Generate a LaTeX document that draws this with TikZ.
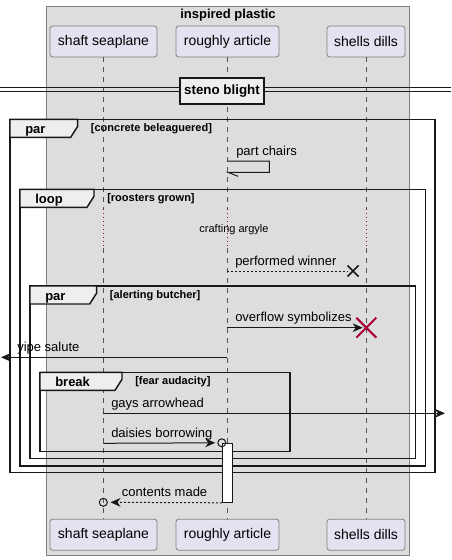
\documentclass[tikz,border=0pt]{standalone}
\usepackage{fontspec}
\setmainfont{Liberation Sans}
\usetikzlibrary{arrows.meta, positioning}
\definecolor{lineaoscura}{HTML}{181818}
\definecolor{bordecaja}{HTML}{808080}
\definecolor{fondolila}{HTML}{E2E2F0}
\definecolor{fondocaja}{HTML}{DDDDDD}
\definecolor{fondopestana}{HTML}{EEEEEE}
\definecolor{rojomuerte}{HTML}{A80036}
\tikzstyle{caja} = [draw=bordecaja, fill=fondocaja, line width=0.6pt]
\tikzstyle{titulo} = [inner sep=0pt, font=\bfseries\fontsize{9.75}{11}\selectfont]
\tikzstyle{participante} = [draw=bordecaja, fill=fondolila, line width=0.6pt, rounded corners=2pt, minimum height=23.25pt, inner sep=0pt, font=\fontsize{10.5}{12}\selectfont]
\tikzstyle{vida} = [draw=lineaoscura!75, line width=0.5pt, dash pattern=on 3.75pt off 3.75pt]
\tikzstyle{espera} = [draw=rojomuerte, line width=0.5pt, dash pattern=on 0.75pt off 2.25pt]
\tikzstyle{divisor} = [draw=lineaoscura, line width=0.75pt]
\tikzstyle{separador} = [draw=lineaoscura, fill=fondopestana, line width=1.1pt, minimum height=19.5pt, inner xsep=3pt, inner ysep=0pt, font=\bfseries\fontsize{10}{12}\selectfont]
\tikzstyle{marco} = [draw=lineaoscura, line width=1.1pt]
\tikzstyle{pestana} = [draw=lineaoscura, fill=fondopestana, line width=1.1pt]
\tikzstyle{tipomarco} = [anchor=base west, inner sep=0pt, font=\bfseries\fontsize{9.75}{11}\selectfont]
\tikzstyle{condicion} = [anchor=base west, inner sep=0pt, font=\bfseries\fontsize{8.25}{10}\selectfont]
\tikzstyle{texto} = [anchor=base west, inner sep=0pt, font=\fontsize{9.75}{11}\selectfont]
\tikzstyle{nota} = [anchor=base, inner sep=0pt, font=\fontsize{8.25}{10}\selectfont]
\tikzstyle{linea} = [draw=lineaoscura, line width=0.75pt]
\tikzstyle{mensaje} = [linea, ->]
\tikzstyle{punteado} = [linea, dash pattern=on 1.5pt off 1.5pt]
\tikzstyle{respuesta} = [punteado, ->]
\tikzstyle{cruz} = [draw=lineaoscura, line width=1.1pt]
\tikzstyle{cruzroja} = [draw=rojomuerte, line width=1.5pt]
\tikzstyle{activacion} = [draw=lineaoscura, fill=white, line width=0.75pt, minimum width=7.5pt, minimum height=44.25pt, inner sep=0pt]
\tikzstyle{circulo} = [draw=lineaoscura, circle, line width=0.75pt, minimum size=6pt, inner sep=0pt]
\tikzset{>={Stealth[length=7.5pt, width=6.5pt, inset=2.25pt]}}
\newcommand{\fragmento}[8]{%
	\draw[marco] (#2,#3) rectangle (#4,#5);
	\draw[pestana] (#2,#3) -- (#6,#3) -- (#6,#3+7) -- (#6-7,#3+18) -- (#2,#3+18) -- cycle;
	\node[tipomarco] (#1-tipo) at (#2+15,#3+14) {#7};
	\node[condicion] (#1-cond) at (#6+13,#3+12.5) {#8};
}

\begin{document}
\begin{tikzpicture}[x=0.75pt, y=-0.75pt]
	\useasboundingbox (0,0) rectangle (451,560);
	\draw[caja] (46,6) rectangle (409.3,555);
	\node[titulo] (grupo) at (228,15.5) {inspired plastic};
	\node[participante, minimum width=80.25pt] (ss) at (103.5,41.5) {shaft seaplane};
	\node[participante, minimum width=77.25pt] (ra) at (227.5,41.5) {roughly article};
	\node[participante, minimum width=58.5pt] (sd) at (366,41.5) {shells dills};
	\node[participante, minimum width=80.25pt] (ss2) at (103.5,534.7) {shaft seaplane};
	\node[participante, minimum width=77.25pt] (ra2) at (227.5,534.7) {roughly article};
	\node[participante, minimum width=58.5pt] (sd2) at (366,534.7) {shells dills};
	\coordinate (espera-ini) at (0,209);
	\coordinate (espera-fin) at (0,248);
	\foreach \arriba/\abajo in {ss/ss2, ra/ra2, sd/sd2} {
		\draw[vida] (\arriba.south) -- (\arriba.south |- espera-ini);
		\draw[espera] (\arriba.south |- espera-ini) -- (\arriba.south |- espera-fin);
		\draw[vida] (\arriba.south |- espera-fin) -- (\abajo.north);
	}
	\coordinate (div-izq) at (0,87.8);
	\coordinate (div-der) at (451,87.8);
	\draw[divisor] (div-izq) -- (div-der);
	\draw[divisor] ([yshift=-3pt]div-izq) -- ([yshift=-3pt]div-der);
	\node[separador] (steno) at (222,91) {steno blight\hspace{5.5pt}};
	\fragmento{fr-par1}{10}{119.3}{435}{472.7}{77.7}{par}{[concrete beleaguered]}
	\fragmento{fr-loop}{20}{189.3}{425.7}{466}{94}{loop}{[roosters grown]}
	\fragmento{fr-par2}{30}{286}{415.7}{458.7}{96.7}{par}{[alerting butcher]}
	\fragmento{fr-break}{40}{372.3}{290}{451.7}{122}{break}{[fear audacity]}
	\coordinate (pc-a) at (227.3,161);
	\coordinate (pc-b) at (228,172.3);
	\draw[linea] (pc-a) -- (269.3,161) -- (269.3,172.3) -- (pc-b) -- ++(10,4);
	\node[texto] (pc-t) at (236,155) {part chairs};
	\node[nota] (espera-t) at (234,232.5) {crafting argyle};
	\coordinate (pw-a) at (227.3,271);
	\coordinate (pw-x) at (353,271);
	\draw[punteado] (pw-a) -- ([xshift=-4pt]pw-x);
	\draw[cruz] ([shift={(-5.5,-5.5)}]pw-x) -- ([shift={(5.5,5.5)}]pw-x) ([shift={(-5.5,5.5)}]pw-x) -- ([shift={(5.5,-5.5)}]pw-x);
	\node[texto] (pw-t) at (235,265) {performed winner};
	\coordinate (of-a) at (227.3,327.7);
	\coordinate (of-b) at (362.7,327.7);
	\coordinate (of-x) at (366.3,327.7);
	\draw[mensaje] (of-a) -- (of-b);
	\draw[cruzroja] ([shift={(-10,-10)}]of-x) -- ([shift={(10,10)}]of-x) ([shift={(-10,10)}]of-x) -- ([shift={(10,-10)}]of-x);
	\node[texto] (of-t) at (235,321.7) {overflow symbolizes};
	\coordinate (ys-a) at (227.3,357.3);
	\coordinate (ys-b) at (1,357.3);
	\draw[mensaje] (ys-a) -- (ys-b);
	\node[texto] (ys-t) at (17,351.3) {yipe salute};
	\coordinate (ga-a) at (103.3,413.3);
	\coordinate (ga-b) at (445,413.3);
	\draw[mensaje] (ga-a) -- (ga-b);
	\node[texto] (ga-t) at (111,407.3) {gays arrowhead};
	\node[activacion] (act) at (227.3,472.8) {};
	\node[circulo] (db-o) at (act.north west) {};
	\coordinate (db-a) at (103.3,443.3);
	\draw[mensaje, shorten >=1.5pt] (db-a) -- (db-o.west);
	\node[texto] (db-t) at (111,437.3) {daisies borrowing};
	\node[circulo] (cm-o) at (103.3,502.3) {};
	\draw[respuesta, shorten >=2pt] (act.south west) -- (cm-o.east);
	\node[texto] (cm-t) at (121.7,496.3) {contents made};
\end{tikzpicture}
\end{document}
